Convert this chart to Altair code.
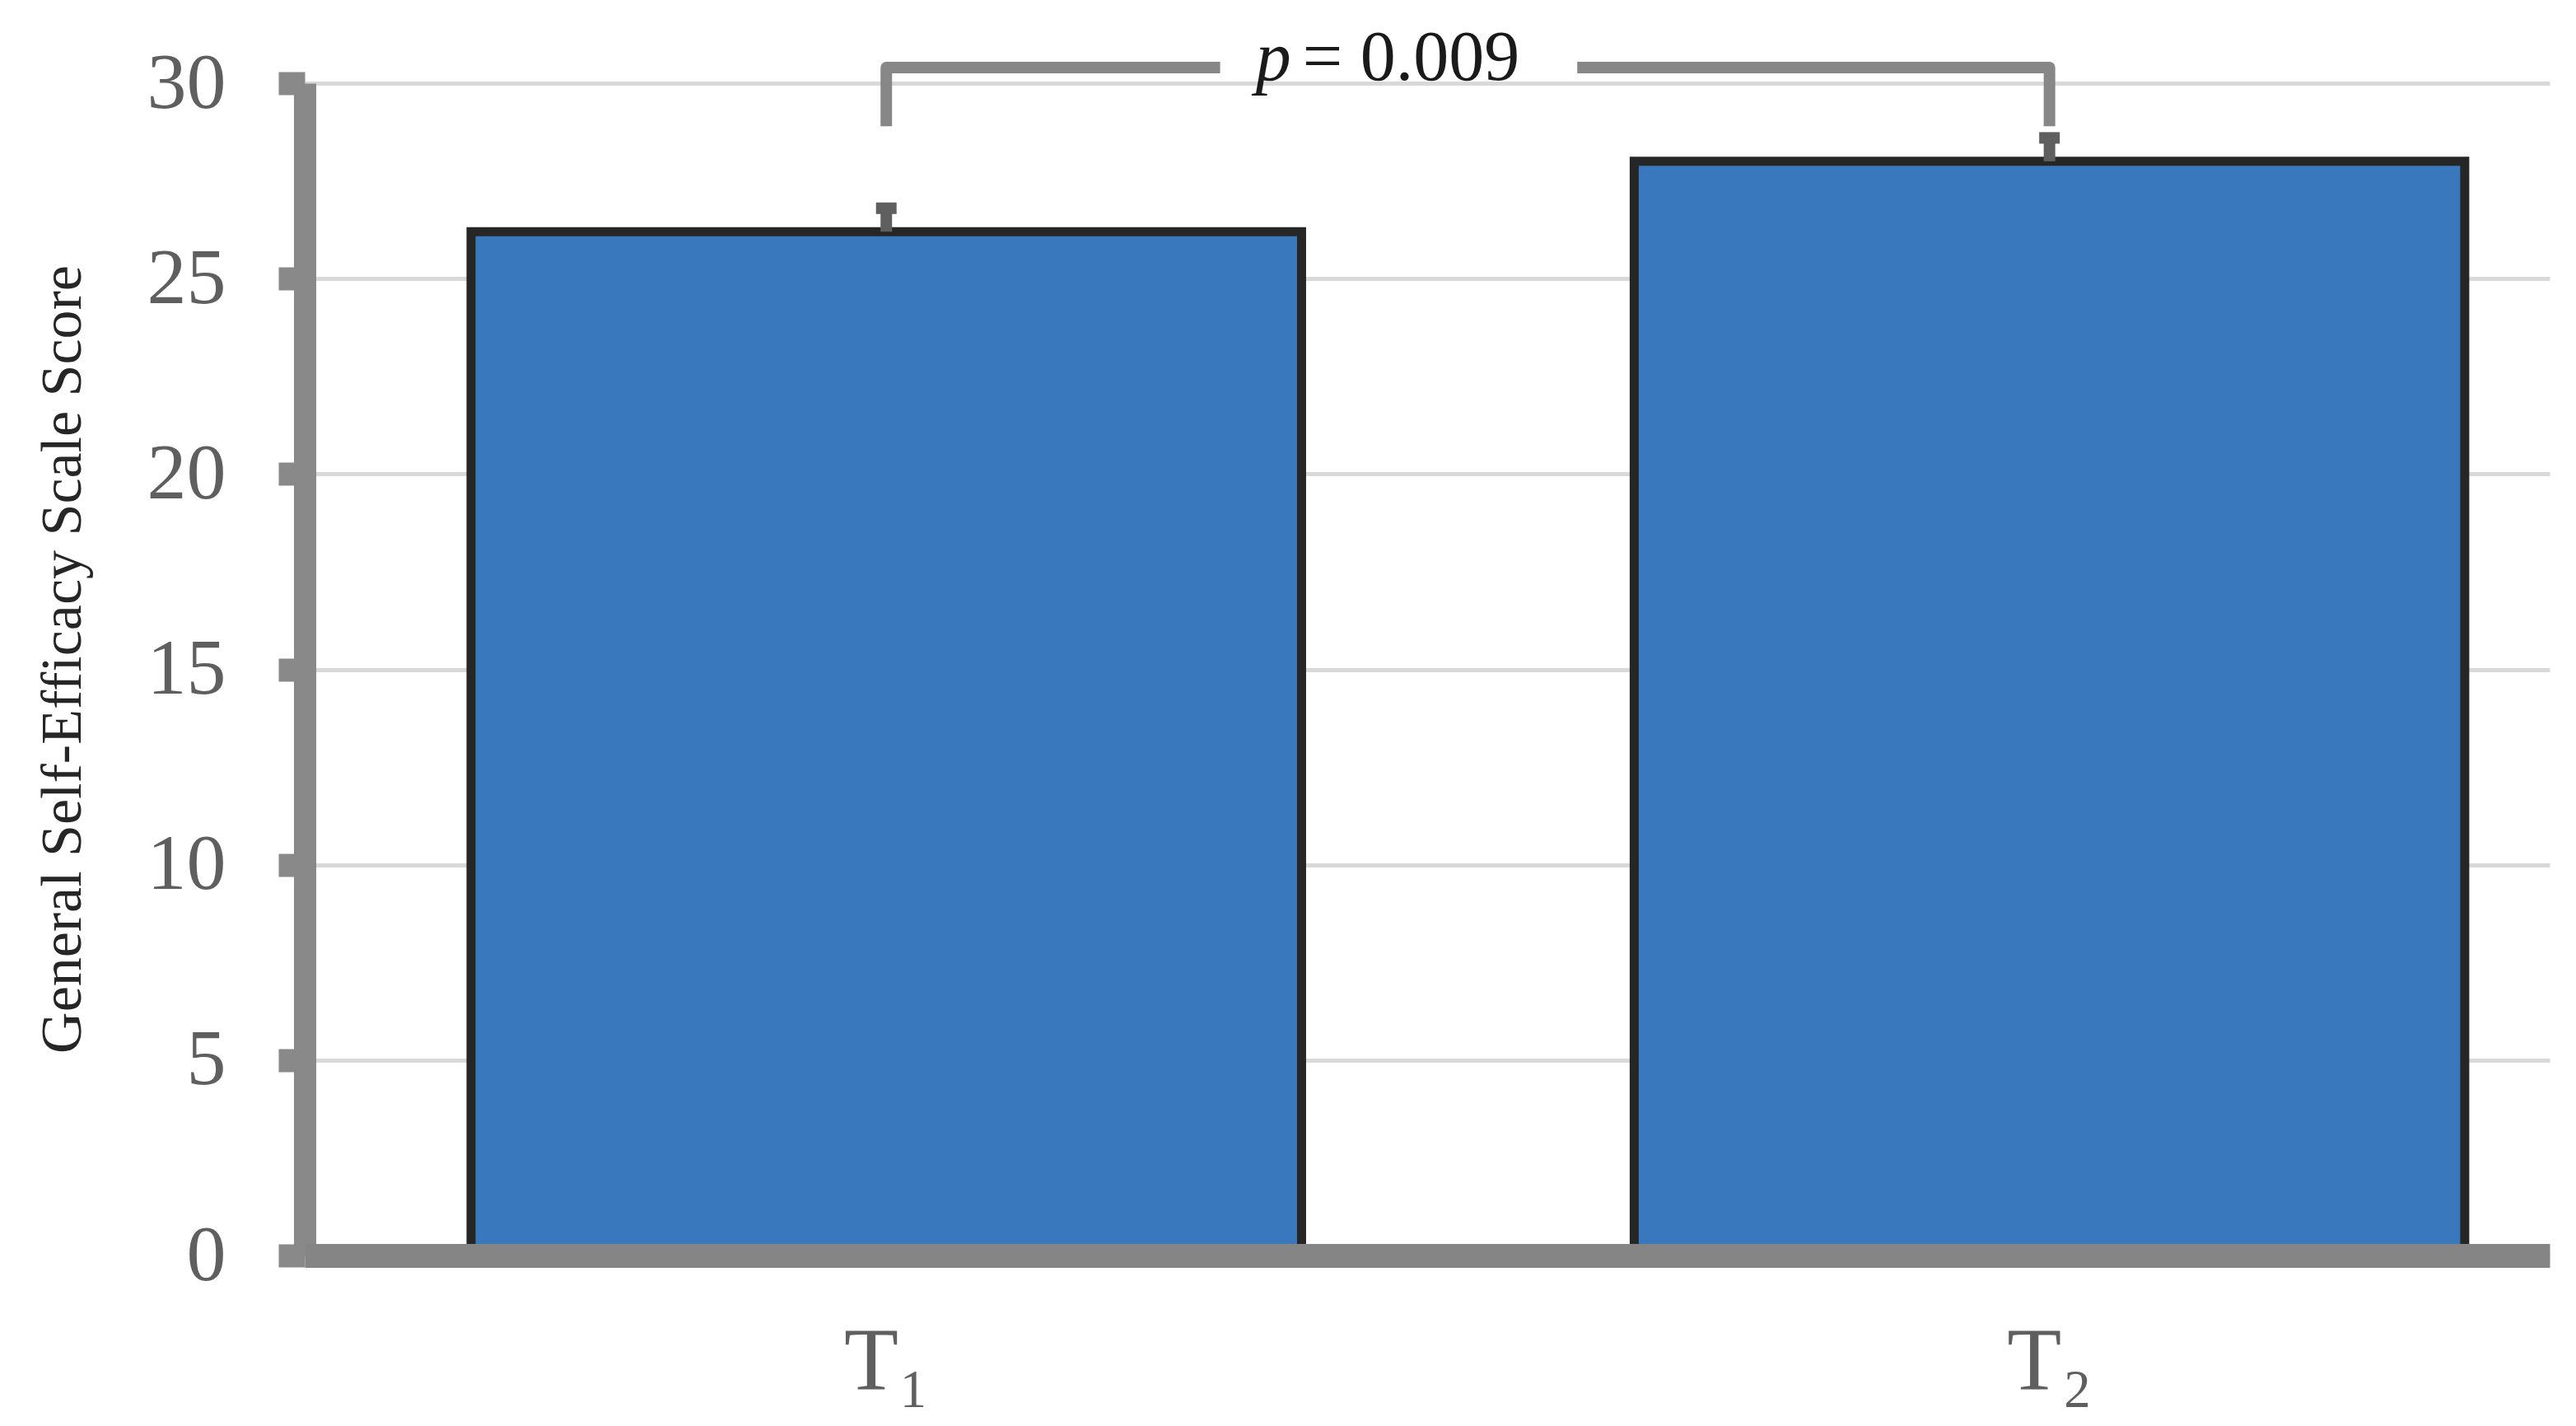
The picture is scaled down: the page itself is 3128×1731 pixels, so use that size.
import altair as alt
import pandas as pd

# ---- data ----
categories = ["T₁", "T₂"]
positions = [1, 2]
means = [26.2, 28.0]
sems = [0.6, 0.6]
y_ticks = [0, 5, 10, 15, 20, 25, 30]

# significance bracket (data coordinates)
bracket_x = [1, 1, 1.287, 1.594, 2, 2]
bracket_y = [28.9, 30.4, 30.4, 30.4, 30.4, 28.9]
bracket_seg = [0, 0, 0, 1, 1, 1]
bracket_ord = [0, 1, 2, 0, 1, 2]
p_italic = "p"
p_rest = "= 0.009"
p_anchor_x = 1.353
p_anchor_y = 30.08

FONT = "Liberation Serif"
BAR_HALF = 0.357

bars_df = pd.DataFrame({"cat": categories, "pos": positions, "mean": means, "se": sems})
bracket_df = pd.DataFrame({"x": bracket_x, "y": bracket_y, "seg": bracket_seg, "ord": bracket_ord})
ann_df = pd.DataFrame({"x": [p_anchor_x], "y": [p_anchor_y], "p": [p_italic], "rest": [p_rest]})

x_scale = alt.Scale(domain=[0.5, 2.43], nice=False, zero=False)
y_scale = alt.Scale(domain=[0, 30], nice=False, zero=True)

label_expr = " : ".join(
    [f"datum.value == {p} ? '{c}'" for p, c in zip(positions, categories)] + ["''"]
)

x_axis = alt.Axis(
    values=positions, labelExpr=label_expr, grid=False, ticks=False,
    domainColor="#858585", domainWidth=29, labelFont=FONT, labelFontSize=108,
    labelColor="#5f5f5f", labelBaseline="alphabetic", labelPadding=161,
    labelAngle=0, labelFlush=False, labelOverlap=False, title=None, zindex=1,
)
y_axis = alt.Axis(
    values=y_ticks, title="General Self-Efficacy Scale Score",
    titleFont=FONT, titleFontSize=70, titleFontWeight="normal", titleColor="#262626",
    titleAngle=270, titleAlign="center", titleBaseline="middle", titleX=-294, titleY=699,
    labelFont=FONT, labelFontSize=96, labelColor="#5f5f5f", labelPadding=64,
    tickSize=32, tickWidth=28, tickColor="#898989",
    domainColor="#898989", domainWidth=27,
    gridColor="#d9d9d9", gridWidth=5,
)


def X(field):
    return alt.X(field, scale=x_scale, axis=x_axis)


def Y(field):
    return alt.Y(field, scale=y_scale, axis=y_axis)


base = alt.Chart(bars_df).transform_calculate(
    x0=f"datum.pos - {BAR_HALF}", x1=f"datum.pos + {BAR_HALF}",
    top="datum.mean + datum.se", zero="0",
)

bars = base.mark_bar(color="#3A78BD", stroke="#262626", strokeWidth=11).encode(
    x=X("x0:Q"), x2="x1:Q", y=Y("mean:Q"), y2="zero:Q",
)

stems = base.mark_rule(color="#5f5f5f", strokeWidth=14).encode(
    x=X("pos:Q"), y=Y("mean:Q"), y2="top:Q",
)

caps = base.mark_tick(color="#5f5f5f", orient="horizontal", size=25, thickness=14, opacity=1).encode(
    x=X("pos:Q"), y=Y("top:Q"),
)

bracket = alt.Chart(bracket_df).mark_line(
    color="#878787", strokeWidth=14, strokeJoin="round", strokeCap="butt"
).encode(
    x=X("x:Q"), y=Y("y:Q"), detail="seg:N", order="ord:Q",
)

p_text = alt.Chart(ann_df).mark_text(
    font=FONT, fontSize=86, fontStyle="italic", align="right", baseline="alphabetic",
    dx=-7, color="#1a1a1a",
).encode(x=X("x:Q"), y=Y("y:Q"), text="p:N")

rest_text = alt.Chart(ann_df).mark_text(
    font=FONT, fontSize=86, align="left", baseline="alphabetic",
    dx=7, color="#1a1a1a",
).encode(x=X("x:Q"), y=Y("y:Q"), text="rest:N")

chart = alt.layer(bars, stems, caps, bracket, p_text, rest_text).properties(
    width=2726, height=1423,
    autosize=alt.AutoSizeParams(type="none"),
    padding={"left": 362, "top": 93, "right": 20, "bottom": 190},
    background="white",
).configure_view(stroke=None)

chart.save("out.html", embed_options={"renderer": "svg", "actions": False})
